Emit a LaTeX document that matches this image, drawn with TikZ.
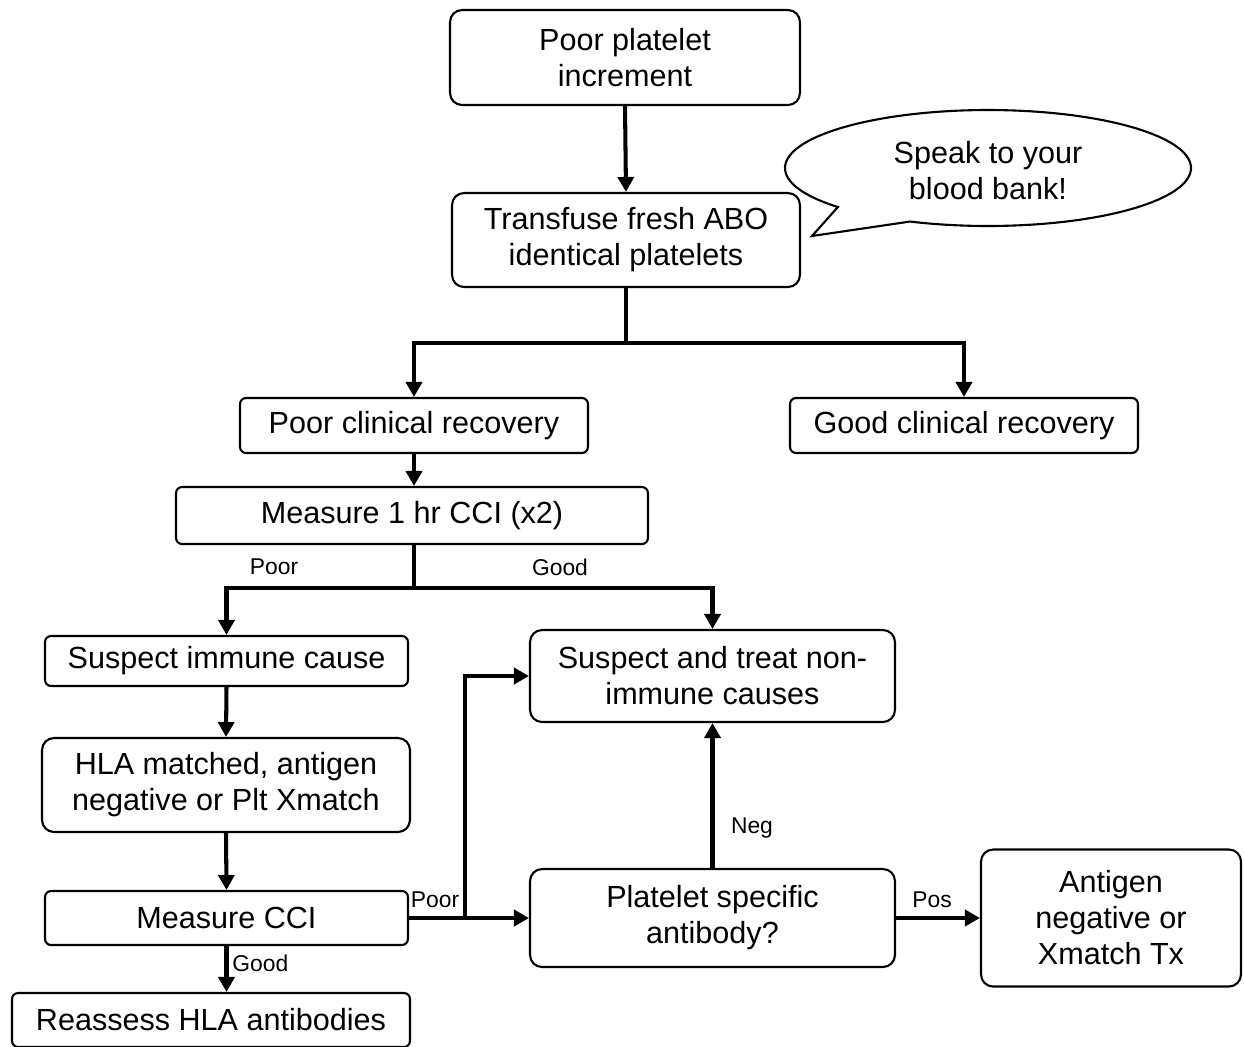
\documentclass[tikz,border=0pt]{standalone}
\usepackage{fontspec}
\setmainfont{Liberation Sans}
\usetikzlibrary{arrows.meta}
\begin{document}
\begin{tikzpicture}[x=0.02cm,y=-0.02cm,
  box/.style={draw, line width=1.2pt, rounded corners=0.12cm, align=center, inner sep=0pt,
    font=\fontsize{17.4}{20.5}\selectfont},
  bigbox/.style={box, rounded corners=0.24cm},
  conn/.style={line width=2.3pt},
  arr/.style={conn, -{Triangle[length=0.3cm,width=0.32cm]}},
  lbl/.style={font=\fontsize{13}{15}\selectfont, inner sep=0pt},
  bubble/.style={line width=1.2pt}]
\useasboundingbox (0,0) rectangle (1244,1046);

\node[bigbox, minimum width=7cm, minimum height=1.9cm] (ppi) at (625,57.5) {Poor platelet\\increment};
\node[bigbox, minimum width=6.96cm, minimum height=1.88cm] (tf) at (626,240) {Transfuse fresh ABO\\identical platelets};
\node[box, minimum width=6.96cm, minimum height=1.1cm] (pcr) at (414,425.5) {Poor clinical recovery};
\node[box, minimum width=6.96cm, minimum height=1.1cm] (gcr) at (964,425.5) {Good clinical recovery};
\node[box, minimum width=9.44cm, minimum height=1.14cm] (m1) at (412,515.5) {Measure 1 hr CCI (x2)};
\node[box, minimum width=7.26cm, minimum height=1.0cm] (sic) at (226.5,661) {Suspect immune cause};
\node[bigbox, minimum width=7.3cm, minimum height=1.84cm] (stn) at (712.5,676) {Suspect and treat non-\\immune causes};
\node[bigbox, minimum width=7.36cm, minimum height=1.88cm] (hla) at (226,785) {HLA matched, antigen\\negative or Plt Xmatch};
\node[box, minimum width=7.26cm, minimum height=1.08cm] (mcci) at (226.5,918) {Measure CCI};
\node[box, minimum width=7.96cm, minimum height=1.08cm] (rha) at (211,1020) {Reassess HLA antibodies};
\node[bigbox, minimum width=7.3cm, minimum height=1.96cm] (psa) at (712.5,918) {Platelet specific\\antibody?};
\node[bigbox, minimum width=5.2cm, minimum height=2.74cm] (ant) at (1111,918) {Antigen\\negative or\\Xmatch Tx};

% speech bubble
\draw[bubble] plot[domain=137.7:472.6, samples=150, variable=\t] ({988+203*cos(\t)},{168+58*sin(\t)}) -- (812,236) -- cycle;
\node[align=center, font=\fontsize{17.4}{20.5}\selectfont] (spk) at (988,171) {Speak to your\\blood bank!};

% connectors
\draw[arr] (ppi.south) -- (tf.north);
\coordinate (j1) at (626,343);
\draw[conn] (tf.south) -- (j1);
\draw[arr] (j1) -| (pcr.north);
\draw[arr] (j1) -| (gcr.north);
\draw[arr] (pcr.south) -- (pcr.south |- m1.north);

\coordinate (j2) at (414,588);
\draw[conn] (m1.south -| j2) -- (j2);
\draw[arr] (j2) -| (sic.north);
\draw[arr] (j2) -| (stn.north);
\node[lbl] (lpoor1) at (274,567) {Poor};
\node[lbl] (lgood1) at (560,567) {Good};

\draw[arr] (sic.south) -- (hla.north);
\draw[arr] (hla.south) -- (mcci.north);
\draw[arr] (mcci.south) -- (mcci.south |- rha.north);
\node[lbl, anchor=west] (lgood2) at (232,963) {Good};

\coordinate (j3) at (465,918);
\draw[conn] (mcci.east) -- (j3);
\draw[arr] (j3) -- (psa.west);
\draw[arr] (j3) |- (stn.west);
\node[lbl] (lpoor2) at (435,900) {Poor};

\draw[arr] (psa.north) -- (stn.south);
\node[lbl] (lneg) at (752,828) {Neg};

\draw[arr] (psa.east) -- (ant.west);
\node[lbl] (lpos) at (932,900) {Pos};
\end{tikzpicture}
\end{document}
